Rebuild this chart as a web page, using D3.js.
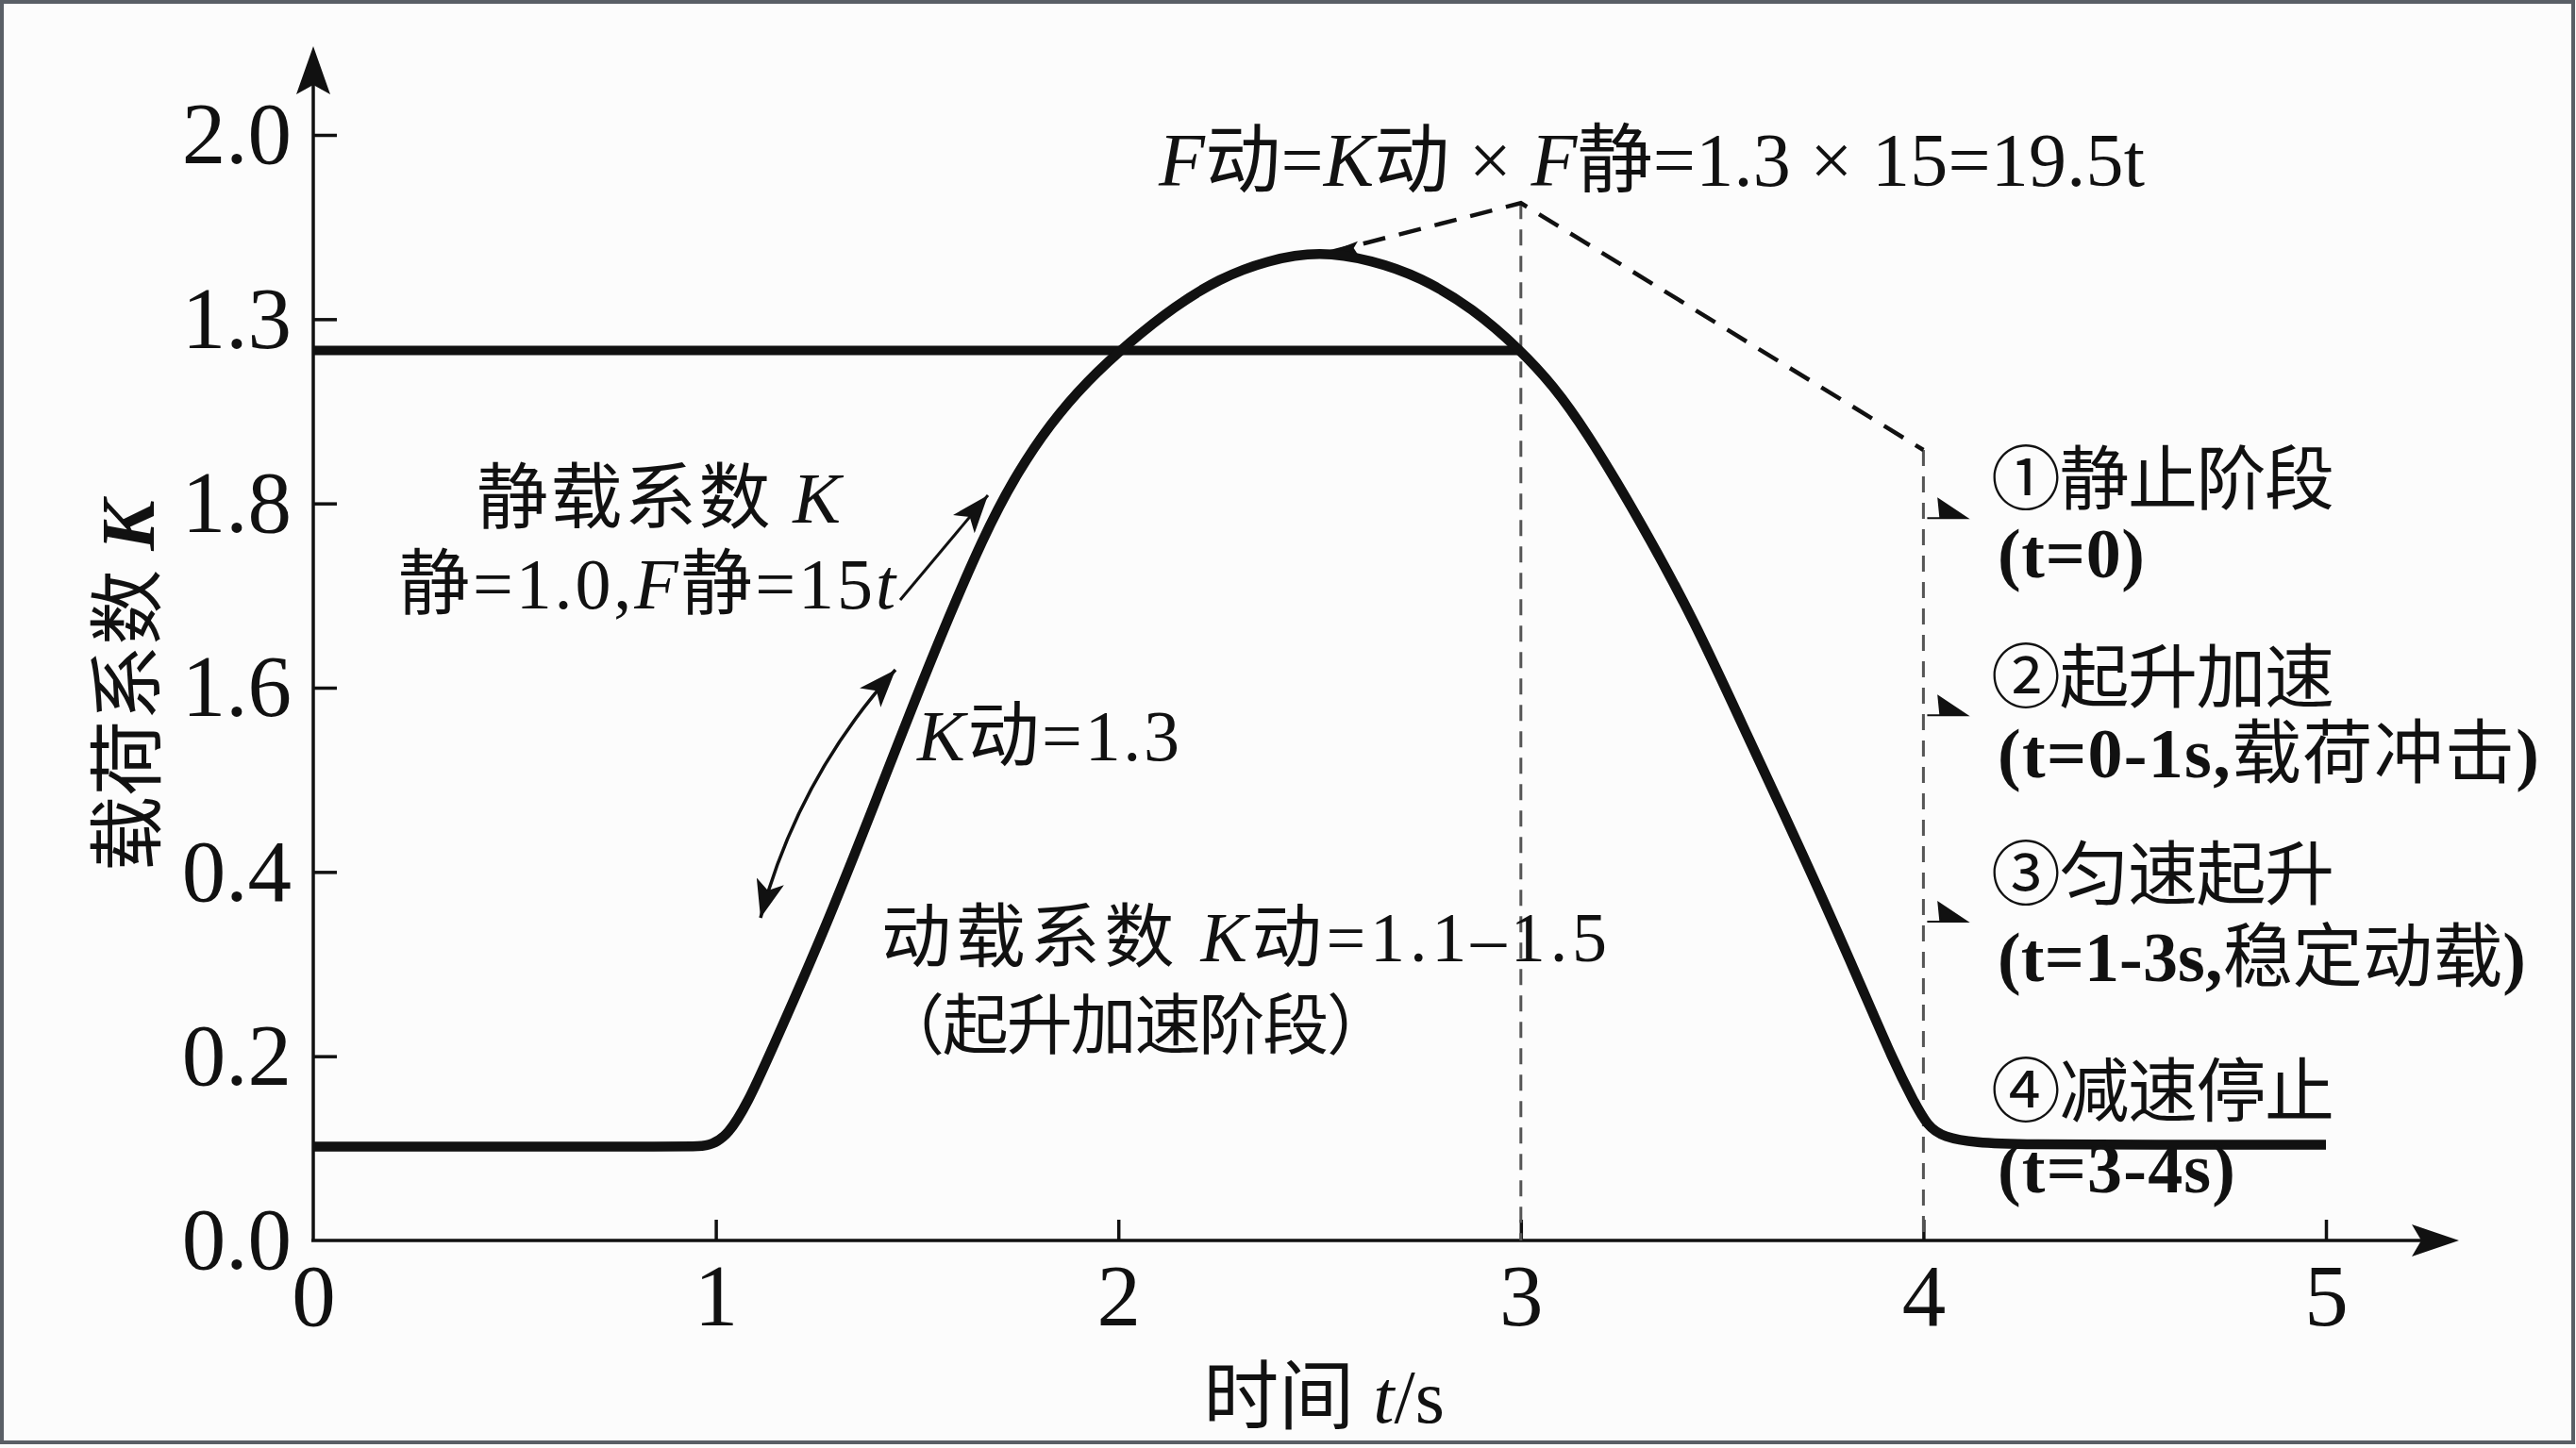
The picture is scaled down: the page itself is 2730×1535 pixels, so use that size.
<!DOCTYPE html>
<meta charset="utf-8">
<style>
body { margin: 0; background: #fff; }
text { font-family: "Liberation Serif", "Noto Sans CJK SC", serif; fill: #111; }
.axis text { font-family: "Liberation Serif", serif; }
</style>
<div id="chart"></div>
<script src="https://d3js.org/d3.v7.min.js"></script>
<script>

// tick values and labels (the y axis labels are as printed, evenly spaced)
var timeTicks = [0, 1, 2, 3, 4, 5];
var kTickLabels = ["0.0", "0.2", "0.4", "1.6", "1.8", "1.3", "2.0"];

// load curve, y given in tick-slot units of the axis above
var curveT = [0, 0.5, 0.9, 0.96, 0.99, 1.03, 1.08, 1.13, 1.266, 1.40, 1.535, 1.67, 1.75, 1.83, 1.92, 2.03, 2.14, 2.25, 2.37, 2.5, 2.63, 2.75, 2.88, 3.0, 3.08, 3.16, 3.29, 3.43, 3.56, 3.70, 3.83, 3.93, 3.975, 4.01, 4.05, 4.13, 4.24, 4.6, 5.0];
var curveK = [0.51, 0.51, 0.51, 0.51, 0.52, 0.57, 0.75, 0.99, 1.66, 2.40, 3.16, 3.85, 4.17, 4.43, 4.66, 4.88, 5.07, 5.22, 5.32, 5.37, 5.32, 5.23, 5.06, 4.83, 4.64, 4.40, 3.93, 3.37, 2.75, 2.10, 1.46, 0.95, 0.76, 0.62, 0.56, 0.53, 0.52, 0.52, 0.52];

// static load line
var staticT = [0, 3];
var staticK = [4.83, 4.83];

// callout (dashed) path and guide lines
var calloutT = [2.52, 3, 4];
var calloutK = [5.36, 5.63, 4.29];
var guideT = [3, 4];
var guideTop = [5.63, 4.29];
var pointerK = [3.92, 2.85, 1.73];

var W = 2730, H = 1535;
var svg = d3.select("#chart").append("svg")
    .attr("width", W)
    .attr("height", H);

svg.append("rect").attr("width", W).attr("height", H).attr("fill", "#fcfcfc");
svg.append("rect").attr("x", 2).attr("y", 2).attr("width", W - 5).attr("height", 1527)
    .attr("fill", "none").attr("stroke", "#5a5f66").attr("stroke-width", 4);

var x = d3.scaleLinear().domain([0, 5]).range([332, 2465]);
var y = d3.scaleLinear().domain([0, 6]).range([1315, 143]);

var defs = svg.append("defs");
defs.append("marker")
    .attr("id", "head")
    .attr("markerUnits", "userSpaceOnUse")
    .attr("viewBox", "0 0 40 30")
    .attr("refX", 40).attr("refY", 15)
    .attr("markerWidth", 40).attr("markerHeight", 30)
    .attr("orient", "auto-start-reverse")
  .append("path")
    .attr("d", "M0,0 L40,15 L0,30 L10,15 Z")
    .attr("fill", "#111");
defs.append("marker")
    .attr("id", "barb")
    .attr("markerUnits", "userSpaceOnUse")
    .attr("viewBox", "0 0 34 24")
    .attr("refX", 34).attr("refY", 14)
    .attr("markerWidth", 34).attr("markerHeight", 24)
    .attr("orient", "auto-start-reverse")
  .append("path")
    .attr("d", "M2,0 L34,14 L0,18 L6,12 Z")
    .attr("fill", "#111");

// axes
var xAxis = svg.append("g")
    .attr("class", "axis")
    .attr("transform", "translate(0," + y(0) + ")")
    .call(d3.axisBottom(x).tickValues(timeTicks).tickSize(-22).tickSizeOuter(0).tickFormat(d3.format("d")));
xAxis.select(".domain").remove();
xAxis.selectAll("line").attr("stroke", "#111").attr("stroke-width", 3.5);
xAxis.selectAll("text").attr("y", 90).attr("dy", null)
    .style("font-size", "93px").attr("fill", "#111");
xAxis.selectAll(".tick").filter(function(d) { return d === 0; }).select("line").remove();

var yAxis = svg.append("g")
    .attr("class", "axis")
    .attr("transform", "translate(" + x(0) + ",0)")
    .call(d3.axisLeft(y).tickValues(d3.range(kTickLabels.length)).tickSize(-25).tickPadding(23)
      .tickSizeOuter(0).tickFormat(function(i) { return kTickLabels[i]; }));
yAxis.select(".domain").remove();
yAxis.selectAll(".tick").filter(function(d) { return d === 0; }).select("line").remove();
yAxis.selectAll("line").attr("stroke", "#111").attr("stroke-width", 3.5);
yAxis.selectAll("text").style("font-size", "93px").attr("fill", "#111");

svg.append("line").attr("x1", x(0) - 2).attr("x2", 2575).attr("y1", y(0)).attr("y2", y(0))
    .attr("stroke", "#111").attr("stroke-width", 3.5);
svg.append("line").attr("x1", x(0)).attr("x2", x(0)).attr("y1", y(0)).attr("y2", 80)
    .attr("stroke", "#111").attr("stroke-width", 3.5);
svg.append("path").attr("d", "M332,49 L350,100 L332,90 L314,100 Z").attr("fill", "#111");
svg.append("path").attr("d", "M2606,1315 L2556,1332 L2566,1315 L2556,1298 Z").attr("fill", "#111");

// guide lines
svg.selectAll(".guide")
    .data(guideT)
  .enter().append("line")
    .attr("class", "guide")
    .attr("x1", function(d) { return x(d); }).attr("x2", function(d) { return x(d); })
    .attr("y1", function(d, i) { return y(guideTop[i]); }).attr("y2", y(0))
    .attr("stroke", "#555").attr("stroke-width", 3)
    .attr("stroke-dasharray", "17,11");

var line = d3.line()
    .x(function(d) { return x(d[0]); })
    .y(function(d) { return y(d[1]); });

svg.append("path")
    .datum(calloutT.map(function(t, i) { return [t, calloutK[i]]; }))
    .attr("d", line)
    .attr("fill", "none")
    .attr("stroke", "#111").attr("stroke-width", 4.5)
    .attr("stroke-dasharray", "24,15")
    .attr("marker-start", "url(#barb)");

// static load line
svg.append("path")
    .datum(staticT.map(function(t, i) { return [t, staticK[i]]; }))
    .attr("d", line)
    .attr("fill", "none").attr("stroke", "#111").attr("stroke-width", 10);

// dynamic load curve
svg.append("path")
    .datum(curveT.map(function(t, i) { return [t, curveK[i]]; }))
    .attr("d", line.curve(d3.curveBasis))
    .attr("fill", "none").attr("stroke", "#111").attr("stroke-width", 10.5)
    .attr("stroke-linejoin", "round");

// pointers to the phase labels
svg.selectAll(".pointer")
    .data(pointerK)
  .enter().append("path")
    .attr("class", "pointer")
    .attr("d", function(d) {
      var px = x(4), py = y(d);
      return "M" + (px + 4) + "," + py + " L" + (px + 46) + "," + py + " L" + (px + 16) + "," + (py - 20) + " L" + (px + 18) + "," + py + " Z";
    })
    .attr("fill", "#111").attr("stroke", "#111").attr("stroke-width", 2);

// annotation arrows
svg.append("path")
    .attr("d", "M806,973 Q846,824 949,710")
    .attr("fill", "none").attr("stroke", "#111").attr("stroke-width", 3.5)
    .attr("marker-start", "url(#head)").attr("marker-end", "url(#head)");
svg.append("line")
    .attr("x1", 954).attr("y1", 636).attr("x2", 1047).attr("y2", 525)
    .attr("stroke", "#111").attr("stroke-width", 3)
    .attr("marker-end", "url(#head)");

// texts
function rich(sel, parts) {
  parts.forEach(function(p) {
    var t = sel.append("tspan").text(p[0]);
    if (p[1] === "i") t.style("font-style", "italic");
    if (p[1] === "b") t.style("font-weight", "bold");
    if (p[1] === "bi") t.style("font-style", "italic").style("font-weight", "bold");
  });
  return sel;
}
function label(px, py, size, len, parts) {
  var t = svg.append("text")
      .attr("x", px).attr("y", py)
      .style("font-size", size + "px");
  if (len) t.attr("textLength", len);
  return rich(t, parts);
}

label(1228, 197, 80, 1045, [["F", "i"], ["动="], ["K", "i"], ["动 × "], ["F", "i"], ["静=1.3 × 15=19.5t"]]);
label(505, 554, 76, 386, [["静载系数 "], ["K", "i"]]);
label(422, 645, 76, 527, [["静=1.0,"], ["F", "i"], ["静=15"], ["t", "i"]]);
label(972, 806, 76, 278, [["K", "i"], ["动=1.3"]]);
label(934, 1019, 74, 769, [["动载系数 "], ["K", "i"], ["动=1.1–1.5"]]);
label(931, 1112, 70, 545, [["（起升加速阶段）"]]);

label(2110, 534, 74, 364, [["①静止阶段"]]);
label(2117, 612, 74, 156, [["(t=0)", "b"]]);
label(2110, 744, 74, 364, [["②起升加速"]]);
label(2117, 824, 74, 574, [["(t=0-1s,", "b"], ["载荷冲击"], [")", "b"]]);
label(2110, 953, 74, 364, [["③匀速起升"]]);
label(2117, 1040, 74, 560, [["(t=1-3s,", "b"], ["稳定动载"], [")", "b"]]);
label(2110, 1183, 74, 364, [["④减速停止"]]);
label(2117, 1264, 74, 252, [["(t=3-4s)", "b"]]);

var yl = svg.append("text")
    .attr("transform", "translate(136,727) rotate(-90)")
    .attr("text-anchor", "middle")
    .attr("dominant-baseline", "central")
    .style("font-size", "80px");
rich(yl, [["载荷系数 "], ["K", "bi"]]);

var xl = svg.append("text")
    .attr("x", 1403).attr("y", 1508)
    .attr("text-anchor", "middle")
    .style("font-size", "80px");
rich(xl, [["时间 "], ["t", "i"], ["/s"]]);

</script>
